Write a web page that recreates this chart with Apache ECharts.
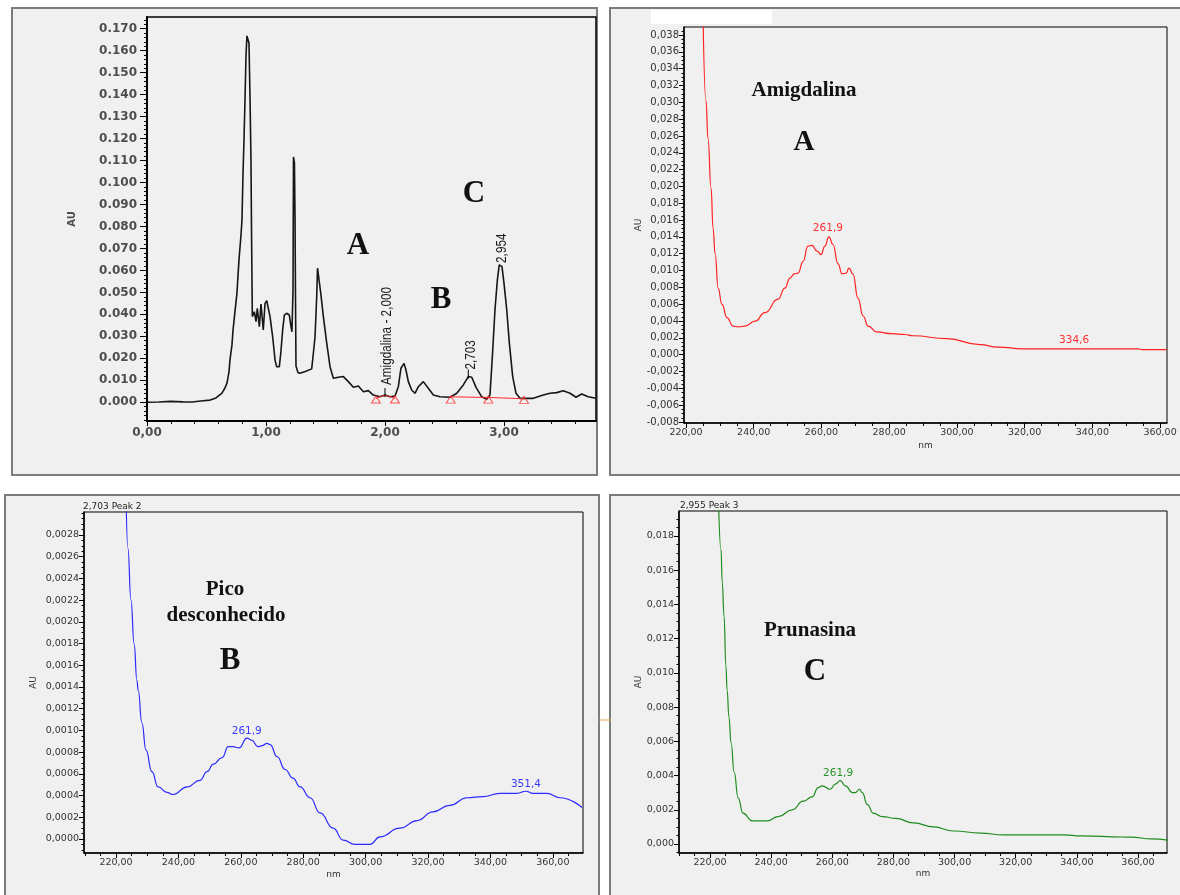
<!DOCTYPE html>
<html><head><meta charset="utf-8">
<script src="https://cdn.jsdelivr.net/npm/echarts@6/dist/echarts.min.js"></script>
<style>html,body{margin:0;padding:0;background:#fff}#c{width:1180px;height:895px}</style>
</head><body><div id="c"></div>
<script>
// ---------------- DATA ----------------
// Panel 1: chromatogram [time (min), AU]
const chromatogram = [[0.00,0.0000],[0.10,0.0001],[0.20,0.0004],[0.30,0.0002],[0.38,0.0001],[0.45,0.0006],[0.53,0.0010],[0.58,0.0020],[0.63,0.0042],[0.655,0.0065],[0.672,0.0087],[0.689,0.0138],[0.697,0.0192],[0.714,0.0261],[0.723,0.0329],[0.739,0.0411],[0.756,0.0497],[0.765,0.0579],[0.773,0.0648],[0.790,0.0762],[0.798,0.0830],[0.807,0.1043],[0.815,0.1193],[0.824,0.1389],[0.832,0.1580],[0.840,0.1667],[0.849,0.1649],[0.857,0.1635],[0.866,0.1375],[0.874,0.1089],[0.878,0.0798],[0.882,0.0570],[0.885,0.0390],[0.902,0.0412],[0.916,0.0367],[0.927,0.0428],[0.944,0.0344],[0.958,0.0447],[0.977,0.0329],[0.992,0.0450],[1.006,0.0462],[1.020,0.0465],[1.034,0.0390],[1.056,0.0298],[1.076,0.0192],[1.090,0.0162],[1.112,0.0162],[1.124,0.0223],[1.140,0.0329],[1.154,0.0397],[1.174,0.0405],[1.196,0.0397],[1.210,0.0344],[1.218,0.0321],[1.227,0.0511],[1.231,0.1116],[1.239,0.1089],[1.244,0.0830],[1.248,0.0466],[1.252,0.0165],[1.269,0.0134],[1.286,0.0132],[1.330,0.0140],[1.384,0.0152],[1.398,0.0223],[1.412,0.0298],[1.426,0.0480],[1.433,0.0610],[1.441,0.0605],[1.460,0.0497],[1.482,0.0390],[1.510,0.0270],[1.538,0.0162],[1.566,0.0109],[1.608,0.0114],[1.650,0.0117],[1.692,0.0094],[1.734,0.0068],[1.776,0.0074],[1.818,0.0048],[1.860,0.0053],[1.902,0.0033],[1.958,0.0025],[2.000,0.0033],[2.042,0.0025],[2.084,0.0029],[2.112,0.0071],[2.134,0.0155],[2.160,0.0177],[2.176,0.0147],[2.196,0.0094],[2.224,0.0056],[2.252,0.0041],[2.280,0.0071],[2.322,0.0094],[2.364,0.0064],[2.406,0.0033],[2.462,0.0025],[2.546,0.0023],[2.603,0.0041],[2.658,0.0079],[2.700,0.0117],[2.729,0.0114],[2.765,0.0068],[2.813,0.0025],[2.855,0.0014],[2.882,0.0033],[2.902,0.0207],[2.924,0.0420],[2.944,0.0556],[2.960,0.0625],[2.983,0.0617],[3.000,0.0541],[3.023,0.0420],[3.045,0.0268],[3.073,0.0117],[3.101,0.0041],[3.134,0.0018],[3.246,0.0018],[3.330,0.0033],[3.387,0.0041],[3.443,0.0044],[3.498,0.0053],[3.555,0.0041],[3.605,0.0023],[3.653,0.0038],[3.708,0.0025],[3.771,0.0018]];
const baselineA = [[1.924,0.0016],[2.000,0.0030],[2.084,0.0016]];
const baselineB = [[2.552,0.0025],[2.868,0.0022],[3.168,0.0016]];
const integrationMarks = [[1.924,0.0013],[2.084,0.0013],[2.552,0.0012],[2.868,0.0012],[3.168,0.0011]];
const peakNotes = [
  {t:2.000, v:0.0033, text:'Amigdalina - 2,000', gap:10, dx:2},
  {t:2.700, v:0.0117, text:'2,703', gap:7, dx:3},
  {t:2.960, v:0.0625, text:'2,954', gap:2, dx:3}
];
// Panel 2: Amigdalina spectrum [nm, AU]
const spectrumA = [[225.0,0.0410],[225.9,0.0302],[226.5,0.0257],[227.4,0.0198],[228.0,0.0150],[228.6,0.0120],[229.5,0.0079],[230.6,0.0060],[232.1,0.0044],[233.9,0.0034],[235.5,0.0033],[237.4,0.0034],[240.4,0.0040],[243.3,0.0050],[247.2,0.0066],[249.2,0.0079],[250.7,0.0091],[252.0,0.0096],[253.1,0.0097],[254.6,0.0111],[256.0,0.0129],[257.2,0.0130],[258.7,0.0123],[259.9,0.0119],[261.0,0.0129],[262.2,0.0140],[263.4,0.0131],[264.9,0.0108],[266.1,0.0096],[267.3,0.0097],[268.1,0.0103],[269.3,0.0096],[270.8,0.0067],[272.3,0.0046],[273.8,0.0034],[276.4,0.0027],[280.8,0.0025],[284.7,0.0024],[287.0,0.00225],[297.0,0.0019],[306.8,0.0012],[312.0,0.0009],[319.5,0.0007],[336.4,0.0007],[353.5,0.0007],[354.7,0.0006],[362.0,0.0006]];
const labelsA = [{name:'261,9', coord:[261.9,0.0141], d:2},{name:'334,6', coord:[334.6,0.0007], d:3}];
// Panel 3: unknown peak spectrum
const spectrumB = [[223.2,0.0032],[223.8,0.00268],[224.8,0.0022],[225.8,0.0018],[226.7,0.00146],[227.1,0.00137],[228.3,0.00107],[229.6,0.00082],[231.5,0.00062],[233.5,0.00048],[236.3,0.00043],[238.3,0.00041],[242.8,0.00048],[246.9,0.00054],[249.2,0.00062],[251.2,0.00069],[254.0,0.00075],[256.0,0.00085],[257.5,0.00085],[259.4,0.00084],[262.0,0.00093],[263.5,0.00091],[265.5,0.00085],[266.8,0.00086],[268.4,0.00088],[269.4,0.00087],[271.6,0.00076],[274.2,0.00064],[276.7,0.00056],[279.0,0.00048],[282.2,0.00038],[285.4,0.00024],[289.6,0.0001],[292.8,-0.00001],[296.6,-0.00005],[301.4,-0.00005],[304.6,0.00002],[311.0,0.0001],[316.5,0.00017],[321.6,0.00025],[327.0,0.00031],[332.5,0.00038],[337.6,0.00039],[343.0,0.00042],[348.5,0.00042],[351.4,0.00044],[353.7,0.00042],[358.1,0.00042],[362.3,0.00038],[369.4,0.00029]];
const labelsB = [{name:'261,9', coord:[261.9,0.00093], d:1},{name:'351,4', coord:[351.4,0.00044], d:1}];
// Panel 4: Prunasina spectrum
const spectrumC = [[222.8,0.0200],[223.6,0.0172],[224.0,0.0153],[224.6,0.0133],[225.2,0.0104],[225.6,0.0090],[226.2,0.0074],[226.9,0.0059],[227.9,0.0042],[229.2,0.0027],[230.8,0.0018],[233.8,0.00135],[238.7,0.00135],[242.3,0.0016],[246.9,0.0020],[250.5,0.0025],[253.4,0.00275],[255.4,0.0033],[256.7,0.0034],[259.3,0.0032],[261.0,0.0035],[262.6,0.0037],[264.3,0.0034],[266.6,0.0030],[267.5,0.0030],[268.9,0.0032],[269.8,0.0030],[271.5,0.0023],[273.4,0.0018],[276.4,0.0016],[280.7,0.0015],[286.6,0.00123],[293.1,0.0010],[299.7,0.00076],[308.5,0.00064],[316.0,0.00053],[335.7,0.00053],[341.3,0.00047],[355.0,0.00041],[357.7,0.0004],[364.3,0.0003],[369.8,0.00023]];
const labelsC = [{name:'261,9', coord:[261.9,0.0037], d:1}];
// Tick labels
const p1XTicks = [0,1,2,3];
const p1YTicks = [0,0.01,0.02,0.03,0.04,0.05,0.06,0.07,0.08,0.09,0.10,0.11,0.12,0.13,0.14,0.15,0.16,0.17];
const nmTicks = [220,240,260,280,300,320,340,360];
const p2YTicks = [-0.008,-0.006,-0.004,-0.002,0,0.002,0.004,0.006,0.008,0.010,0.012,0.014,0.016,0.018,0.020,0.022,0.024,0.026,0.028,0.030,0.032,0.034,0.036,0.038];
const p3YTicks = [0,0.0002,0.0004,0.0006,0.0008,0.0010,0.0012,0.0014,0.0016,0.0018,0.0020,0.0022,0.0024,0.0026,0.0028];
const p4YTicks = [0,0.002,0.004,0.006,0.008,0.010,0.012,0.014,0.016,0.018];

// ---------------- HELPERS ----------------
const FF = '"DejaVu Sans", sans-serif';
function fmt(dec, sep){ return v => { let s = (Math.abs(v)<1e-12?0:v).toFixed(dec); return sep===','?s.replace('.',','):s; }; }
function minorOf(min,max,step,majors){ const out=[]; const k0=Math.ceil(min/step-1e-9), k1=Math.floor(max/step+1e-9);
  for(let k=k0;k<=k1;k++){ const v=+(k*step).toFixed(10); if(!majors.some(m=>Math.abs(m-v)<step*1e-3)) out.push(v);} return out; }
function axes(dim, grid, min, max, majors, minorStep, fmtFn, st){
  const pos = dim==='x'?'bottom':'left';
  const common = {type:'value', gridIndex:grid, min:min, max:max, position:pos, splitLine:{show:false}, minorTick:{show:false}, minorSplitLine:{show:false}, silent:true};
  const major = Object.assign({}, common, {
    axisLine:{show:true, onZero:false, lineStyle:{color:'#000', width:st.lw}},
    axisTick:{show:true, customValues:majors, length:st.tl, lineStyle:{color:'#000', width:1}},
    axisLabel:{show:true, customValues:majors, formatter:fmtFn, margin:st.margin, color:st.color, fontFamily:st.ff||FF, fontSize:st.fs, fontWeight:st.fw||'normal', hideOverlap:false}
  });
  if (st.name) Object.assign(major, {name:st.name, nameLocation:'middle', nameGap:st.nameGap, nameRotate: dim==='y'?90:0,
    nameTextStyle:{color:st.color, fontFamily:FF, fontSize:st.nameFs, fontWeight:st.nameFw||'normal'}});
  const minor = Object.assign({}, common, {
    axisLine:{show:false, onZero:false},
    axisTick:{show:true, customValues:minorOf(min,max,minorStep,majors), length:st.mtl, lineStyle:{color:'#000', width:1}},
    axisLabel:{show:false}
  });
  return [major, minor];
}
function gridBox(l,t,w,h,bw){ return {left:l, top:t, width:w, height:h, show:true, borderColor:'#000', borderWidth:bw, backgroundColor:'transparent', containLabel:false, outerBoundsMode:'none'}; }
function specLabels(list, color){ return {symbol:'circle', symbolSize:1, itemStyle:{color:'rgba(0,0,0,0)'}, silent:true, animation:false,
  data:list.map(o=>({name:o.name, coord:o.coord, label:{distance:o.d}})),
  label:{show:true, position:'top', formatter:p=>p.name, color:color, fontFamily:FF, fontSize:10.5}}; }

const stP1x = {lw:2, tl:5, mtl:3, margin:6, color:'#4d4d4d', fs:12, fw:'bold'};
const stP1y = {lw:2, tl:7, mtl:3, margin:10, color:'#4d4d4d', fs:12, fw:'bold', name:'AU', nameGap:70, nameFs:10, nameFw:'bold'};
const stSx = (gap)=>({lw:1.5, tl:5, mtl:3, margin:5, color:'#333', fs:9.5, name:'nm', nameGap:gap, nameFs:9});
const stSy = (gap,fs)=>({lw:1.5, tl:5, mtl:2.5, margin:5, color:'#333', fs:fs, name:'AU', nameGap:gap, nameFs:9});

const xAxes = [].concat(
  axes('x',0,0,3.773,p1XTicks,0.2,fmt(2,','),stP1x),
  axes('x',1,219.41,362.05,nmTicks,5,fmt(2,','),stSx(18)),
  axes('x',2,209.74,369.68,nmTicks,5,fmt(2,','),stSx(17)),
  axes('x',3,209.86,369.49,nmTicks,5,fmt(2,','),stSx(15))
);
const yAxes = [].concat(
  axes('y',0,-0.00851,0.17529,p1YTicks,0.002,fmt(3,'.'),stP1y),
  axes('y',1,-0.00812,0.03895,p2YTicks,0.0005,fmt(3,','),stSy(39,10)),
  axes('y',2,-0.000129,0.003012,p3YTicks,0.00005,fmt(4,','),stSy(46,9.5)),
  axes('y',3,-0.000526,0.019461,p4YTicks,0.0005,fmt(3,','),stSy(36,9.5))
);

const option = {
  backgroundColor:'#ffffff', animation:false,
  grid:[gridBox(147,17,449,404,1.5), gridBox(684,27,483,396,1), gridBox(84,512,499,341,1), gridBox(679,511,488,342,1)],
  xAxis:xAxes, yAxis:yAxes,
  series:[
    {type:'line', xAxisIndex:0, yAxisIndex:0, data:chromatogram, symbol:'none', lineStyle:{color:'#161616', width:1.6}, z:3},
    {type:'line', xAxisIndex:0, yAxisIndex:0, data:baselineA, symbol:'none', smooth:true, lineStyle:{color:'#ff2a2a', width:1}, z:4},
    {type:'line', xAxisIndex:0, yAxisIndex:0, data:baselineB, symbol:'none', lineStyle:{color:'#ff2a2a', width:1}, z:4},
    {type:'scatter', xAxisIndex:0, yAxisIndex:0, data:integrationMarks, symbol:'triangle', symbolSize:[9,7],
      itemStyle:{color:'rgba(0,0,0,0)', borderColor:'#ff2a2a', borderWidth:1}, z:5, silent:true},
    {type:'line', xAxisIndex:2, yAxisIndex:2, data:spectrumA, symbol:'none', smooth:0.5, smoothMonotone:'x', lineStyle:{color:'#ff2020', width:1.2}, markPoint:specLabels(labelsA,'#ff3030')},
    {type:'line', xAxisIndex:4, yAxisIndex:4, data:spectrumB, symbol:'none', smooth:0.5, smoothMonotone:'x', lineStyle:{color:'#2b2bff', width:1.2}, markPoint:specLabels(labelsB,'#3a3aff')},
    {type:'line', xAxisIndex:6, yAxisIndex:6, data:spectrumC, symbol:'none', smooth:0.5, smoothMonotone:'x', lineStyle:{color:'#1e8c1e', width:1.2}, markPoint:specLabels(labelsC,'#2a942a')}
  ]
};

const chart = echarts.init(document.getElementById('c'), null, {renderer:'canvas', width:1180, height:895});
chart.setOption(option);

// ---------------- GRAPHIC DECORATION ----------------
const frame = (x,y,w,h)=>({type:'rect', z:-10, silent:true, shape:{x:x,y:y,width:w,height:h}, style:{fill:'#f0f0f0', stroke:'#7c7c7c', lineWidth:2}});
const txt = (x,y,t,font,fill,align)=>({type:'text', z:20, silent:true, x:x, y:y, style:{text:t, font:font, fill:fill||'#111', textAlign:align||'center', textVerticalAlign:'middle'}});
const serif = s=>'bold '+s+'px "Liberation Serif", serif';
const els = [
  frame(12,8,585,467), frame(610,8,580,467), frame(5,495,594,420), frame(610,495,580,420),
  {type:'rect', z:15, silent:true, shape:{x:651,y:10,width:121,height:14}, style:{fill:'#ffffff'}},
  {type:'line', z:15, silent:true, shape:{x1:599,y1:720,x2:611,y2:720}, style:{stroke:'#e3a65a', lineWidth:1}},
  txt(358,246,'A',serif(31)), txt(441,300,'B',serif(31)), txt(474,194,'C',serif(31)),
  txt(804,91,'Amigdalina',serif(21)), txt(804,143,'A',serif(29)),
  txt(225,590,'Pico',serif(21)), txt(226,616,'desconhecido',serif(21)), txt(230,661,'B',serif(31)),
  txt(810,631,'Prunasina',serif(21)), txt(815,672,'C',serif(31)),
  txt(83,507,'2,703 Peak 2','9px "DejaVu Sans"','#222','left'),
  txt(680,506,'2,955 Peak 3','9px "DejaVu Sans"','#222','left')
];
peakNotes.forEach((p,i)=>{
  const pt = chart.convertToPixel({xAxisIndex:0, yAxisIndex:0}, [p.t, p.v]);
  els.push({type:'text', z:20, silent:true, x:pt[0]+p.dx, y:pt[1]-p.gap, rotation:Math.PI/2, scaleX:0.84,
    style:{text:p.text, font:'14px "Liberation Sans", sans-serif', fill:'#1a1a1a', textAlign:'left', textVerticalAlign:'middle'}});
  if (i<2) els.push({type:'line', z:20, silent:true, shape:{x1:pt[0],y1:pt[1]-7,x2:pt[0],y2:pt[1]+2}, style:{stroke:'#000', lineWidth:1}});
});
chart.setOption({graphic:{elements:els}});
</script></body></html>
